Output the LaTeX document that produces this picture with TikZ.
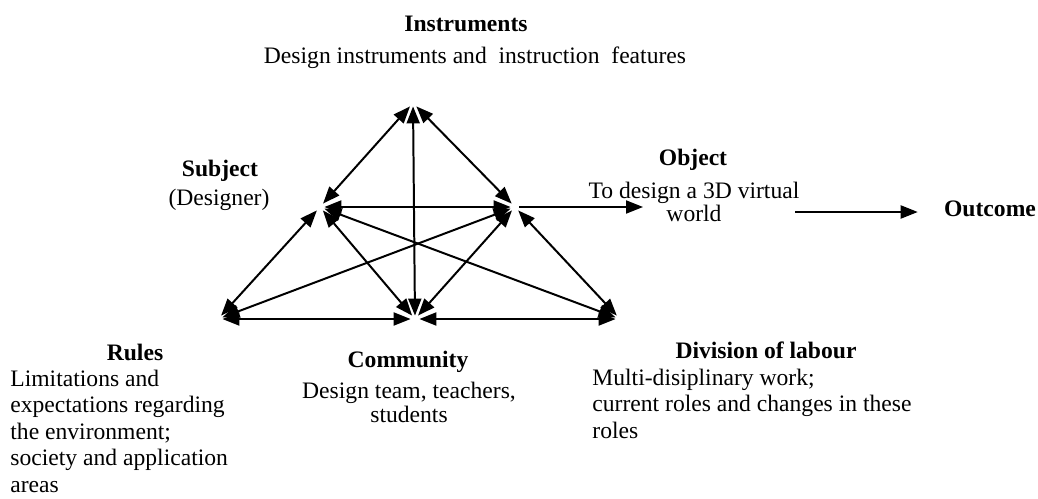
\documentclass[tikz,border=0pt]{standalone}
\usepackage{fontspec}
\setmainfont{Liberation Serif}
\usetikzlibrary{arrows.meta}

\tikzset{
  vertex/.style={inner sep=0pt, minimum width=4pt, minimum height=3pt},
  link/.style={line width=0.035cm, {Triangle[length=8.5pt,width=6.5pt]}-{Triangle[length=8.5pt,width=6.5pt]}},
  push/.style={line width=0.035cm, -{Triangle[length=8.5pt,width=6.5pt]}},
  head/.style={anchor=base, inner sep=0pt, font=\bfseries},
  note/.style={anchor=base, inner sep=0pt}
}

\begin{document}
\fontsize{11.8}{13.2}\selectfont
\begin{tikzpicture}[x=0.5pt, y=-0.5pt]
                    \useasboundingbox (0,0) rectangle (1038,498);

                    % Marking corners of the triangles
                    \node [vertex, minimum width=11pt] (ins) at (413,103) {};
                    \node [vertex] (sub) at (320,207) {};
                    \node [vertex] (obj) at (515,207) {};
                    \node [vertex] (rul) at (218,319) {};
                    \node [vertex] (com) at (415,319) {};
                    \node [vertex] (div) at (620,319) {};

                    % Drawing arrows to ins
                    \draw [link] (sub) -- (ins);%
                    \draw [link] (obj) -- (ins);%
                    \draw [link] (com) -- (ins);%

                    % Drawing arrows from sub
                    \draw [link] (sub) -- (obj);%
                    \draw [link] (sub) -- (rul);%
                    \draw [link] (sub) -- (com);%
                    \draw [link] (sub) -- (div);%

                    % Drawing arrows from obj
                    \draw [link] (obj) -- (rul);%
                    \draw [link] (obj) -- (com);%
                    \draw [link] (obj) -- (div);%

                    % Drawing base line
                    \draw [link] (rul) -- (com);%
                    \draw [link] (com) -- (div);%

                    % Drawing arrow obj goal
                    \coordinate (goal) at (643,207);
                    \draw [push] (obj) -- (goal);%

                    % Marking labels (multi-line ones sit on their last baseline)
                    \node [head] (instruments) at (466,31.7) {Instruments};%
                    \node [note] (instrumentsnote) at (475,63.3) {Design instruments and\ \ instruction\ \ features};%
                    \node [head] (subject) at (220,176.7) {Subject};%
                    \node [note] (subjectnote) at (219,205) {(Designer)};%
                    \node [head] (object) at (693,165) {Object};%
                    \node [note, align=center, font=\fontsize{11.8}{11.8}\selectfont] (objectnote) at (694,221.6) {To design a 3D virtual\\world};%
                    \node [head] (outcome) at (990,216.7) {Outcome};%
                    \node [head] (rules) at (135,360) {Rules};%
                    \node [note, anchor=base west, align=left] (rulesnote) at (10,492) {Limitations and\\expectations regarding\\the environment;\\society and application\\areas};%
                    \node [head] (community) at (408,367.3) {Community};%
                    \node [note, align=center, font=\fontsize{11.8}{12.2}\selectfont] (communitynote) at (409,422.7) {Design team, teachers,\\students};%
                    \node [head] (division) at (766,358.3) {Division of labour};%
                    \node [note, anchor=base west, align=left] (divisionnote) at (592,438.3) {Multi-disiplinary work;\\current roles and changes in these\\roles};%

                    % Drawing arrow world outcome
                    \coordinate (world) at (795,212);
                    \draw [push, shorten >=13pt] (world) -- (world -| outcome.west);%
\end{tikzpicture}
\end{document}
